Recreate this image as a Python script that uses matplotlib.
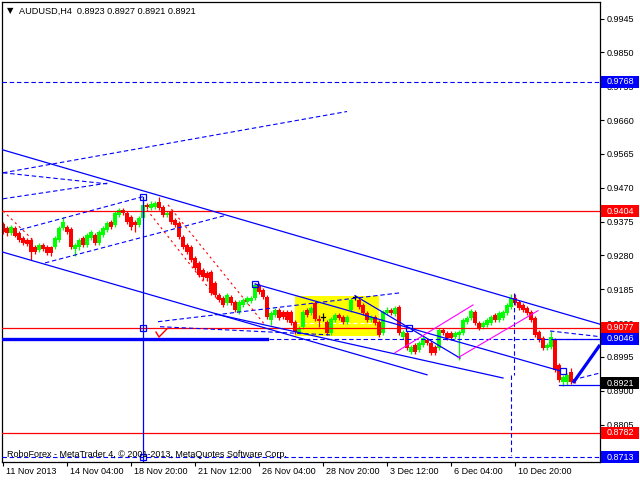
import matplotlib
matplotlib.use("Agg")
import matplotlib.pyplot as plt
from matplotlib import transforms
from matplotlib.patches import Rectangle

plt.rcParams['font.family'] = ['Liberation Sans', 'DejaVu Sans']

symbol = "AUDUSD,H4"
last_ohlc = ["0.8923", "0.8927", "0.8921", "0.8921"]
copyright_text = "RoboForex - MetaTrader 4, \u00a9 2001-2013, MetaQuotes Software Corp."

opens = [
    .9369, .9358, .9344, .9358, .9344, .9330, .9324, .9324, .9304, .9296,
    .9310, .9304, .9304, .9304, .9324, .9358, .9360, .9355, .9299, .9304,
    .9330, .9310, .9330, .9338, .9316, .9338, .9352, .9375, .9366, .9394,
    .9408, .9400, .9389, .9375, .9366, .9386, .9422, .9414, .9417, .9431,
    .9417, .9394, .9403, .9380, .9372, .9332, .9310, .9304, .9273, .9259,
    .9240, .9231, .9234, .9203, .9169, .9161, .9147, .9164, .9150, .9122,
    .9141, .9150, .9153, .9161, .9198, .9183, .9164, .9099, .9113, .9127,
    .9122, .9122, .9122, .9094, .9065, .9080, .9127, .9119, .9147, .9102,
    .9108, .9094, .9063, .9099, .9113, .9108, .9094, .9127, .9164, .9155,
    .9141, .9119, .9099, .9108, .9094, .9063, .9119, .9127, .9116, .9136,
    .9052, .9063, .9009, .9029, .9015, .9029, .9043, .9035, .9023, .9020,
    .9071, .9063, .9063, .9052, .9057, .9063, .9094, .9105, .9122, .9091,
    .9080, .9085, .9091, .9113, .9099, .9105, .9119, .9136, .9161, .9150,
    .9141, .9133, .9122, .9105, .9065, .9049, .9020, .9023, .9043, .8973,
    .8925, .8925, .8953, .8923]
highs = [
    .9375, .9363, .9366, .9363, .9349, .9335, .9330, .9330, .9310, .9316,
    .9316, .9310, .9307, .9335, .9363, .9389, .9366, .9360, .9316, .9330,
    .9335, .9344, .9352, .9344, .9352, .9363, .9377, .9380, .9405, .9414,
    .9414, .9405, .9394, .9380, .9391, .9445, .9428, .9434, .9434, .9445,
    .9422, .9405, .9408, .9386, .9377, .9338, .9316, .9310, .9279, .9265,
    .9245, .9237, .9240, .9209, .9175, .9167, .9175, .9169, .9155, .9155,
    .9161, .9167, .9167, .9203, .9203, .9189, .9169, .9125, .9133, .9133,
    .9127, .9127, .9127, .9099, .9082, .9127, .9133, .9139, .9153, .9113,
    .9119, .9099, .9108, .9119, .9119, .9113, .9113, .9161, .9169, .9164,
    .9147, .9125, .9113, .9113, .9099, .9127, .9136, .9133, .9139, .9141,
    .9071, .9068, .9029, .9035, .9040, .9054, .9049, .9040, .9029, .9077,
    .9077, .9068, .9068, .9068, .9071, .9105, .9111, .9130, .9127, .9096,
    .9096, .9105, .9113, .9119, .9125, .9127, .9147, .9172, .9172, .9155,
    .9147, .9139, .9127, .9111, .9071, .9054, .9035, .9068, .9049, .8978,
    .8945, .8950, .8964, .8927]
lows = [
    .9341, .9335, .9338, .9332, .9318, .9310, .9307, .9268, .9285, .9290,
    .9293, .9282, .9279, .9299, .9318, .9352, .9341, .9299, .9279, .9296,
    .9304, .9304, .9324, .9310, .9310, .9332, .9346, .9355, .9360, .9389,
    .9394, .9369, .9352, .9346, .9360, .9380, .9411, .9408, .9411, .9408,
    .9389, .9389, .9369, .9360, .9327, .9299, .9285, .9262, .9240, .9220,
    .9212, .9209, .9169, .9164, .9150, .9136, .9141, .9141, .9122, .9116,
    .9136, .9144, .9147, .9155, .9172, .9158, .9102, .9085, .9108, .9099,
    .9102, .9094, .9085, .9060, .9060, .9074, .9108, .9113, .9096, .9080,
    .9096, .9057, .9057, .9094, .9099, .9088, .9088, .9122, .9155, .9130,
    .9113, .9094, .9094, .9085, .9052, .9057, .9113, .9113, .9111, .9057,
    .9046, .9015, .9004, .9004, .9009, .9023, .9029, .9001, .9001, .9015,
    .9057, .9043, .9043, .9046, .8987, .9057, .9088, .9099, .9085, .9071,
    .9074, .9080, .9085, .9094, .9094, .9099, .9113, .9130, .9141, .9127,
    .9122, .9113, .9094, .9052, .9037, .9015, .9015, .9018, .8953, .8925,
    .8914, .8917, .8919, .8921]
closes = [
    .9346, .9344, .9360, .9335, .9324, .9316, .9313, .9290, .9290, .9310,
    .9299, .9288, .9288, .9330, .9358, .9375, .9346, .9304, .9310, .9324,
    .9310, .9338, .9346, .9316, .9346, .9358, .9372, .9360, .9400, .9408,
    .9400, .9375, .9360, .9366, .9386, .9422, .9417, .9425, .9428, .9414,
    .9394, .9400, .9375, .9366, .9332, .9304, .9290, .9268, .9245, .9226,
    .9220, .9217, .9175, .9169, .9155, .9141, .9169, .9147, .9127, .9150,
    .9155, .9161, .9161, .9198, .9178, .9164, .9108, .9119, .9127, .9105,
    .9108, .9099, .9091, .9065, .9077, .9122, .9113, .9133, .9102, .9096,
    .9108, .9063, .9102, .9113, .9105, .9094, .9108, .9155, .9164, .9136,
    .9119, .9099, .9108, .9091, .9057, .9122, .9127, .9119, .9133, .9063,
    .9065, .9020, .9023, .9009, .9035, .9049, .9035, .9006, .9006, .9071,
    .9063, .9049, .9049, .9063, .9065, .9099, .9105, .9125, .9091, .9077,
    .9091, .9099, .9108, .9099, .9119, .9122, .9141, .9161, .9147, .9133,
    .9127, .9119, .9099, .9057, .9043, .9020, .9029, .9052, .8959, .8931,
    .8939, .8945, .8925, .8921]

date_labels = ["11 Nov 2013", "14 Nov 04:00", "18 Nov 20:00", "21 Nov 12:00",
               "26 Nov 04:00", "28 Nov 20:00", "3 Dec 12:00", "6 Dec 04:00",
               "10 Dec 20:00"]
date_bars = [0, 16, 32, 48, 64, 80, 96, 112, 128]
price_ticks = [0.9945, 0.9850, 0.9755, 0.9660, 0.9565, 0.9470, 0.9375, 0.9280,
               0.9185, 0.9090, 0.8995, 0.8900, 0.8805, 0.8710]
hidden_tick_labels = [0.8710]
red_levels = [0.9404, 0.9077, 0.8782]
blue_levels = [0.9768, 0.9046, 0.8713]
current_price = 0.8921

BLUE = '#0000ff'
RED = '#ff0000'
LIME = '#00ff00'
MAG = '#ff00ff'
DASH = (0, (4, 2.5))

fig = plt.figure(figsize=(6.4, 4.8), dpi=100)
ax = fig.add_axes([2 / 640, 18 / 480, 598 / 640, 460 / 480])
X0, X1 = -0.25, 149.25
Y0, Y1 = 0.87002, 0.99914
ax.set_xlim(X0, X1)
ax.set_ylim(Y0, Y1)
for s in ax.spines.values():
    s.set_color('black')
    s.set_linewidth(0.9)

# background yellow rectangle
ax.add_patch(Rectangle((73, 0.9054), 21, 0.0113, fc='#ffff00', ec='none', zorder=0.5))
ax.plot([73, 94], [0.9091, 0.9091], color='white', lw=0.8, ls=DASH, zorder=0.6)

# candles
for i in range(len(opens)):
    o, h, l, c = opens[i], highs[i], lows[i], closes[i]
    col = LIME if c > o else (RED if c < o else 'black')
    ax.vlines(i, min(l, o, c), max(h, o, c), color=col, lw=0.9, zorder=2)
    if c == o:
        ax.plot([i - 0.4, i + 0.4], [o, o], color=col, lw=0.9, zorder=2)
    else:
        ax.bar(i, c - o, bottom=o, width=0.78, color=col, lw=0, zorder=2)

# horizontal levels
for lv in red_levels:
    ax.axhline(lv, color=RED, lw=0.9, zorder=3)
for lv in blue_levels:
    ax.axhline(lv, color=BLUE, lw=0.8, ls=DASH, zorder=3)
ax.plot([X0, 66], [0.9046, 0.9046], color=BLUE, lw=2.4, zorder=3)
ax.plot([137.5, X1], [0.9046, 0.9046], color=BLUE, lw=0.9, zorder=3)
ax.plot([139, X1], [0.8917, 0.8917], color=BLUE, lw=0.9, zorder=3)

# solid trend lines
solid_lines = [
    ((X0, 0.9577), (X1, 0.9087)),
    ((X0, 0.9290), (106, 0.8945)),
    ((63, 0.9200), (139.25, 0.8956)),
    ((53, 0.9116), (125, 0.8936)),
    ((88, 0.9167), (114.25, 0.8992)),
]
for (xa, ya), (xb, yb) in solid_lines:
    ax.plot([xa, xb], [ya, yb], color=BLUE, lw=0.9, zorder=3)

# forecast thick line
ax.plot([142.5, X1], [0.8922, 0.9029], color=BLUE, lw=2.3, zorder=3, solid_capstyle='butt')

# dashed blue lines
dashed_lines = [
    ((0, 0.9512), (86, 0.9684)),
    ((0, 0.9512), (26, 0.9481)),
    ((0, 0.9439), (26.75, 0.9484)),
    ((4.25, 0.9352), (35, 0.9445)),
    ((10.5, 0.9259), (55.5, 0.9392)),
    ((38.75, 0.9094), (99.25, 0.9175)),
    ((39.25, 0.9080), (81.75, 0.9057)),
    ((136.75, 0.9068), (X1, 0.9052)),
    ((142.5, 0.8931), (X1, 0.8950)),
    ((127.75, 0.9175), (127.75, 0.8945)),
    ((127, 0.8945), (127, 0.8720)),
]
for (xa, ya), (xb, yb) in dashed_lines:
    ax.plot([xa, xb], [ya, yb], color=BLUE, lw=0.8, ls=DASH, zorder=3)

# vertical solid line at the top bar
ax.plot([35, 35], [0.9445, Y0], color=BLUE, lw=0.9, zorder=3)

# red dashed lines
red_dashed = [
    ((0, 0.9405), (8, 0.9318)),
    ((36, 0.9408), (53.75, 0.9155)),
    ((41.25, 0.9422), (65.5, 0.9085)),
]
for (xa, ya), (xb, yb) in red_dashed:
    ax.plot([xa, xb], [ya, yb], color=RED, lw=0.8, ls=(0, (2, 3)), zorder=3)

# magenta channel
ax.plot([98, 117.5], [0.9007, 0.9141], color=MAG, lw=0.8, zorder=3)
ax.plot([113.75, 133.75], [0.8993, 0.9125], color=MAG, lw=0.8, zorder=3)

# square markers
sq_x = [35, 35, 35, 63, 101.5, 140]
sq_y = [0.9445, 0.9077, 0.8715, 0.9201, 0.9077, 0.8956]
ax.plot(sq_x, sq_y, ls='none', marker='s', ms=4.5, mfc='none', mec=BLUE, mew=0.9, zorder=4)

# red check mark
ax.plot([38.25, 39, 41], [0.9065, 0.9051, 0.9074], color=RED, lw=1.0, zorder=4)

# axes ticks
ax.yaxis.tick_right()
ax.set_yticks(price_ticks)
ax.set_yticklabels(["" if t in hidden_tick_labels else f"{t:.4f}" for t in price_ticks])
ax.tick_params(axis='y', direction='out', length=3, width=0.8, pad=2,
               labelsize=6.5, colors='black')
ax.set_xticks(date_bars)
ax.set_xticklabels([])
ax.tick_params(axis='x', direction='out', length=3, width=0.8)
xt = transforms.blended_transform_factory(ax.transData, ax.transAxes)
for b, lab in zip(date_bars, date_labels):
    ax.text(b + 0.7, -0.0196, lab, transform=xt, ha='left', va='center',
            fontsize=6.5, color='black', clip_on=False)

# header and copyright
fig.text(7 / 640, 1 - 11 / 480, "\u25bc", fontsize=6, ha='left', va='center',
         family='DejaVu Sans')
fig.text(19 / 640, 1 - 11 / 480,
         f"{symbol}  " + " ".join(last_ohlc), fontsize=6.6, ha='left', va='center')
ax.text(0.008, 0.0165, copyright_text, transform=ax.transAxes, fontsize=6.5,
        ha='left', va='center', color='black', zorder=5)

# price label boxes on the right
fig.canvas.draw()
def price_box(level, color):
    fy = ax.transData.transform((0, level))[1] / (4.8 * 100)
    fig.add_artist(Rectangle((601 / 640, fy - 6 / 480), 38 / 640, 12 / 480,
                             transform=fig.transFigure, fc=color, ec='none', zorder=5))
    fig.text(620 / 640, fy, f"{level:.4f}", color='white', fontsize=6.5,
             ha='center', va='center', zorder=6)

for lv in red_levels:
    price_box(lv, RED)
for lv in blue_levels:
    price_box(lv, BLUE)
price_box(current_price, 'black')

fig.savefig("out.png", dpi=100)
